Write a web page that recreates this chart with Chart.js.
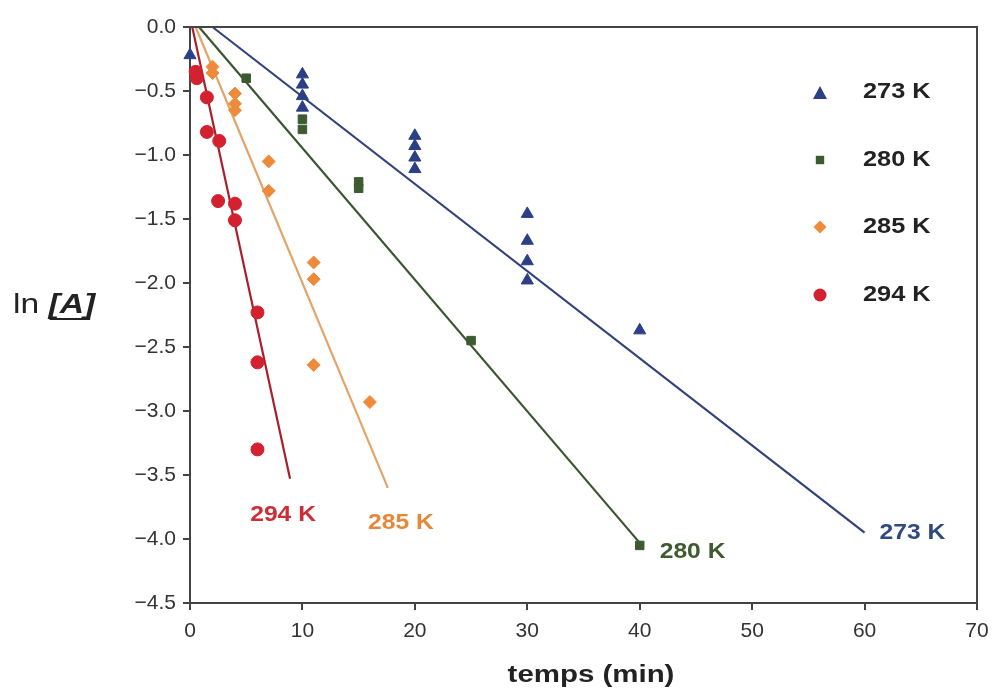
<!DOCTYPE html>
<html><head><meta charset="utf-8">
<script src="https://cdn.jsdelivr.net/npm/chart.js@4/dist/chart.umd.min.js"></script>
<style>
html,body{margin:0;padding:0;background:#fff;}
#wrap{position:relative;width:992px;height:691px;}
</style></head>
<body>
<div id="wrap">
<canvas id="c" width="992" height="691"></canvas>
</div>
<script>
// ---- data ----
const seriesLabels = ['273 K', '280 K', '285 K', '294 K'];
const t273 = [0, 10, 10, 10, 10, 20, 20, 20, 20, 30, 30, 30, 30, 40];
const ln273 = [-0.22, -0.37, -0.45, -0.54, -0.63, -0.85, -0.93, -1.02, -1.11, -1.46, -1.67, -1.83, -1.98, -2.37];
const t280 = [5, 10, 10, 15, 15, 25, 40];
const ln280 = [-0.40, -0.72, -0.80, -1.21, -1.26, -2.45, -4.05];
const t285 = [2, 2, 4, 4, 4, 7, 7, 11, 11, 11, 16];
const ln285 = [-0.31, -0.36, -0.52, -0.60, -0.65, -1.05, -1.28, -1.84, -1.97, -2.64, -2.93];
const t294 = [0.5, 0.6, 1.5, 1.5, 2.6, 2.5, 4, 4, 6, 6, 6];
const ln294 = [-0.35, -0.40, -0.55, -0.82, -0.89, -1.36, -1.38, -1.51, -2.23, -2.62, -3.30];
// fitted lines (start, end)
const fit273T = [2, 60],   fit273Ln = [0, -3.95];
const fit280T = [0.8, 40], fit280Ln = [0, -4.03];
const fit285T = [0.5, 17.6], fit285Ln = [0, -3.60];
const fit294T = [0.2, 8.9], fit294Ln = [0, -3.53];
const xTicks = [0, 10, 20, 30, 40, 50, 60, 70];
const yTicks = [0, -0.5, -1.0, -1.5, -2.0, -2.5, -3.0, -3.5, -4.0, -4.5];
const xTitle = 'temps (min)';
const yTitleA = 'ln ', yTitleB = '[A]';

const zip = (xs, ys) => xs.map((x, i) => ({x: x, y: ys[i]}));

const cBlue = '#2b3f86', cGreen = '#3c5b30', cOrange = '#ef8a3a', cRed = '#d4212f';
const lBlue = '#33437a', lGreen = '#3b5530', lOrange = '#e3a46a', lRed = '#a8202c';

const lineDs = (t, l, col) => ({type: 'line', data: zip(t, l), borderColor: col, borderWidth: 2.2,
  pointRadius: 0, fill: false, tension: 0, order: 2, clip: false});
const ptDs = (t, l, col, style, r) => ({type: 'scatter', data: zip(t, l), backgroundColor: col, borderColor: col,
  borderWidth: 1, pointStyle: style, pointRadius: r, order: 1, clip: false});

const datasets = [
  lineDs(fit273T, fit273Ln, lBlue),
  lineDs(fit280T, fit280Ln, lGreen),
  lineDs(fit285T, fit285Ln, lOrange),
  lineDs(fit294T, fit294Ln, lRed),
  ptDs(t273, ln273, cBlue, 'triangle', 7),
  ptDs(t280, ln280, cGreen, 'rect', 6),
  ptDs(t285, ln285, cOrange, 'rectRot', 6.5),
  ptDs(t294, ln294, cRed, 'circle', 6.5),
];

const FONT = '"Liberation Sans", Arial, sans-serif';

function marker(ctx, style, x, y, r, col) {
  ctx.save(); ctx.fillStyle = col; ctx.beginPath();
  if (style === 'triangle') { ctx.moveTo(x, y - r); ctx.lineTo(x + r * 0.87, y + r * 0.5 + 1); ctx.lineTo(x - r * 0.87, y + r * 0.5 + 1); ctx.closePath(); }
  else if (style === 'rect') { ctx.rect(x - r * 0.7, y - r * 0.7, r * 1.4, r * 1.4); }
  else if (style === 'rectRot') { ctx.moveTo(x, y - r); ctx.lineTo(x + r, y); ctx.lineTo(x, y + r); ctx.lineTo(x - r, y); ctx.closePath(); }
  else { ctx.arc(x, y, r, 0, Math.PI * 2); }
  ctx.fill(); ctx.restore();
}

// text stretched horizontally (the reference text is wide)
function sText(ctx, txt, x, y, align, sx) {
  ctx.save();
  const w = ctx.measureText(txt).width * sx;
  let x0 = x;
  if (align === 'center') x0 = x - w / 2; else if (align === 'right') x0 = x - w;
  ctx.translate(x0, y); ctx.scale(sx, 1); ctx.textAlign = 'left';
  ctx.fillText(txt, 0, 0);
  ctx.restore();
  return w;
}

const decor = {
  id: 'decor',
  afterDraw(chart) {
    const {ctx, chartArea: a, scales} = chart;
    ctx.save();
    // box top/right
    ctx.strokeStyle = '#444'; ctx.lineWidth = 2;
    ctx.beginPath(); ctx.moveTo(a.left, a.top); ctx.lineTo(a.right, a.top); ctx.lineTo(a.right, a.bottom); ctx.stroke();
    // legend
    const styles = ['triangle', 'rect', 'rectRot', 'circle'];
    const cols = [cBlue, cGreen, cOrange, cRed];
    const ys = [92, 160, 227, 295];
    const rs = [8, 6, 6.5, 6.5];
    ctx.textBaseline = 'middle';
    seriesLabels.forEach((lab, i) => {
      marker(ctx, styles[i], 820, ys[i] + (i === 0 ? 2 : 0), rs[i], cols[i]);
      ctx.font = 'bold 22px ' + FONT; ctx.fillStyle = '#222';
      sText(ctx, lab, 863, ys[i], 'left', 1.15);
    });
    // line end labels
    const X = scales.x, Y = scales.y;
    const ends = [
      [fit273T, fit273Ln, '#2e4a80', 15, 0, 'left', 0],
      [fit280T, fit280Ln, '#3e5a2e', 20, 9, 'left', 1],
      [fit285T, fit285Ln, '#e5883a', 13, 35, 'center', 2],
      [fit294T, fit294Ln, '#cc2e38', -7, 36, 'center', 3],
    ];
    ctx.font = 'bold 22px ' + FONT;
    ends.forEach(e => {
      const px = X.getPixelForValue(e[0][1]), py = Y.getPixelForValue(e[1][1]);
      ctx.fillStyle = e[2];
      sText(ctx, seriesLabels[e[6]], px + e[3], py + e[4], e[5], 1.12);
    });
    // x title
    ctx.textBaseline = 'alphabetic';
    ctx.font = 'bold 23px ' + FONT; ctx.fillStyle = '#222';
    sText(ctx, xTitle, 591, 682, 'center', 1.28);
    // y title
    ctx.font = '28px ' + FONT; ctx.fillStyle = '#222';
    const w1 = sText(ctx, yTitleA, 13, 313, 'left', 1.2);
    ctx.font = 'italic bold 28px ' + FONT;
    const w2 = sText(ctx, yTitleB, 13 + w1, 313, 'left', 1.2);
    ctx.strokeStyle = '#222'; ctx.lineWidth = 1.8;
    ctx.beginPath(); ctx.moveTo(13 + w1 + 1, 319); ctx.lineTo(13 + w1 + w2 - 5, 319); ctx.stroke();
    ctx.restore();
  }
};

new Chart(document.getElementById('c'), {
  data: {datasets},
  options: {
    responsive: false, animation: false,
    layout: {padding: {top: 27, right: 15, left: 0, bottom: 0}},
    plugins: {legend: {display: false}, tooltip: {enabled: false}},
    scales: {
      x: {type: 'linear', min: 0, max: 70,
        afterFit(s) { s.height = 88; s.paddingRight = 0; s.paddingLeft = 0; },
        afterBuildTicks(s) { s.ticks = xTicks.map(v => ({value: v})); },
        grid: {display: true, drawOnChartArea: false, drawTicks: true, tickLength: 7, color: '#444', lineWidth: 2},
        border: {display: true, color: '#444', width: 2},
        ticks: {color: '#333', font: {family: FONT, size: 21}, padding: 9, maxRotation: 0,
          callback: v => String(v)}},
      y: {type: 'linear', min: -4.5, max: 0,
        afterFit(s) { s.width = 190; s.paddingTop = 0; s.paddingBottom = 0; },
        afterBuildTicks(s) { s.ticks = yTicks.map(v => ({value: v})); },
        grid: {display: true, drawOnChartArea: false, drawTicks: true, tickLength: 7, color: '#444', lineWidth: 2},
        border: {display: true, color: '#444', width: 2},
        ticks: {color: '#333', font: {family: FONT, size: 21}, padding: 7,
          callback: v => (v < 0 ? '\u2212' : '') + Math.abs(v).toFixed(1)}}
    }
  },
  plugins: [decor]
});
</script>
</body></html>
